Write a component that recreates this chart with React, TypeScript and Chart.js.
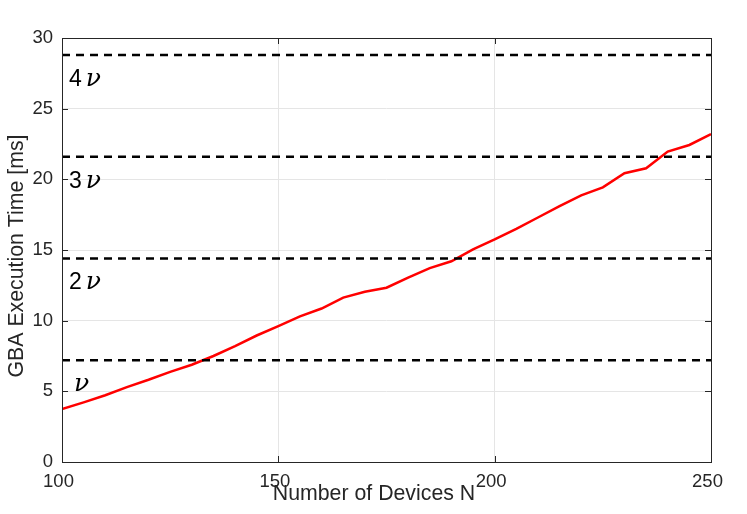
import React, { useEffect, useRef } from "react";
import { Chart, registerables } from "chart.js";

Chart.register(...registerables);

const devices = [100, 105, 110, 115, 120, 125, 130, 135, 140, 145, 150, 155, 160, 165, 170, 175, 180, 185, 190, 195, 200, 205, 210, 215, 220, 225, 230, 235, 240, 245, 250];
const gbaTime = [3.75, 4.22, 4.72, 5.3, 5.82, 6.38, 6.88, 7.5, 8.2, 8.95, 9.62, 10.3, 10.86, 11.63, 12.05, 12.33, 13.05, 13.72, 14.2, 15.05, 15.75, 16.5, 17.3, 18.1, 18.86, 19.43, 20.43, 20.78, 21.96, 22.43, 23.2];
const nu = 7.2;
const nuLevels = [nu, 2 * nu, 3 * nu, 4 * nu];
const nuLabels = ["", "2", "3", "4"];
const xTicks = [100, 150, 200, 250];
const yTicks = [0, 5, 10, 15, 20, 25, 30];
const xTitle = "Number of Devices N";
const yTitle = "GBA Execution Time [ms]";

const TEXT = "#262626";
const BOX = "#262626";
const GRID = "#e5e5e5";
const SANS = "'Liberation Sans', Arial, Helvetica, sans-serif";

const decorPlugin = {
  id: "decor",
  afterDatasetsDraw(chart: any) {
    const { ctx, chartArea, scales } = chart;
    const { left, right, top, bottom } = chartArea;
    const xs = scales.x;
    const ys = scales.y;
    ctx.save();
    // box
    ctx.strokeStyle = BOX;
    ctx.lineWidth = 1;
    ctx.strokeRect(left + 0.5, top + 0.5, right - left, bottom - top);
    // inside ticks
    const tl = 6;
    ctx.beginPath();
    for (const v of xTicks) {
      const px = Math.round(xs.getPixelForValue(v)) + 0.5;
      ctx.moveTo(px, bottom);
      ctx.lineTo(px, bottom - tl);
      ctx.moveTo(px, top);
      ctx.lineTo(px, top + tl);
    }
    for (const v of yTicks) {
      const py = Math.round(ys.getPixelForValue(v)) + 0.5;
      ctx.moveTo(left, py);
      ctx.lineTo(left + tl, py);
      ctx.moveTo(right, py);
      ctx.lineTo(right - tl, py);
    }
    ctx.stroke();
    // nu labels
    ctx.fillStyle = "#000";
    ctx.textBaseline = "alphabetic";
    ctx.textAlign = "left";
    nuLevels.forEach((lv, i) => {
      const py = ys.getPixelForValue(lv) + 31;
      let px = left + 7;
      if (nuLabels[i]) {
        ctx.font = "23px " + SANS;
        ctx.fillText(nuLabels[i], px, py);
        px += ctx.measureText(nuLabels[i]).width + 4;
      } else {
        px += 5;
      }
      ctx.font = "italic 25px 'DejaVu Serif', 'Liberation Serif', serif";
      ctx.fillText("\u03BD", px, py);
    });
    // axis titles
    ctx.fillStyle = TEXT;
    ctx.font = "21.3px " + SANS;
    ctx.textAlign = "center";
    ctx.textBaseline = "alphabetic";
    ctx.fillText(xTitle, 374, 500);
    ctx.translate(23, 256);
    ctx.rotate(-Math.PI / 2);
    ctx.fillText(yTitle, 0, 0);
    ctx.restore();
  },
};

export default function App() {
  const ref = useRef<HTMLCanvasElement>(null);
  useEffect(() => {
    if (!ref.current) return;
    const dashed = nuLevels.map((lv) => ({
      data: [
        { x: devices[0], y: lv },
        { x: devices[devices.length - 1], y: lv },
      ],
      borderColor: "#000",
      borderWidth: 2.5,
      borderDash: [8, 6],
      pointRadius: 0,
      fill: false,
    }));
    const chart = new Chart(ref.current, {
      type: "line",
      data: {
        datasets: [
          ...dashed,
          {
            data: devices.map((d, i) => ({ x: d, y: gbaTime[i] })),
            borderColor: "#ff0000",
            borderWidth: 2.5,
            pointRadius: 0,
            fill: false,
            tension: 0,
          },
        ],
      },
      options: {
        animation: false,
        responsive: false,
        devicePixelRatio: 1,
        layout: { padding: { left: 0, top: 38, right: 36, bottom: 0 } },
        plugins: { legend: { display: false }, tooltip: { enabled: false } },
        scales: {
          x: {
            type: "linear",
            min: 100,
            max: 250,
            afterBuildTicks: (s: any) => {
              s.ticks = xTicks.map((v) => ({ value: v }));
            },
            afterFit: (s: any) => {
              s.height = 52;
            },
            ticks: {
              color: TEXT,
              font: { family: SANS, size: 18.5 },
              padding: 9,
              labelOffset: -3.5,
              maxRotation: 0,
            },
            grid: {
              drawTicks: false,
              color: (c: any) => (c.tick && (c.tick.value === 100 || c.tick.value === 250) ? "rgba(0,0,0,0)" : GRID),
            },
            border: { display: false },
          },
          y: {
            type: "linear",
            min: 0,
            max: 30,
            afterBuildTicks: (s: any) => {
              s.ticks = yTicks.map((v) => ({ value: v }));
            },
            afterFit: (s: any) => {
              s.width = 62;
            },
            ticks: {
              color: TEXT,
              font: { family: SANS, size: 18.5 },
              padding: 9,
            },
            grid: {
              drawTicks: false,
              color: (c: any) => (c.tick && (c.tick.value === 0 || c.tick.value === 30) ? "rgba(0,0,0,0)" : GRID),
            },
            border: { display: false },
          },
        },
      },
      plugins: [decorPlugin],
    });
    return () => chart.destroy();
  }, []);
  return (
    <div style={{ position: "absolute", left: 0, top: 0, width: 747, height: 514, background: "#fff" }}>
      <canvas ref={ref} width={747} height={514} />
    </div>
  );
}
